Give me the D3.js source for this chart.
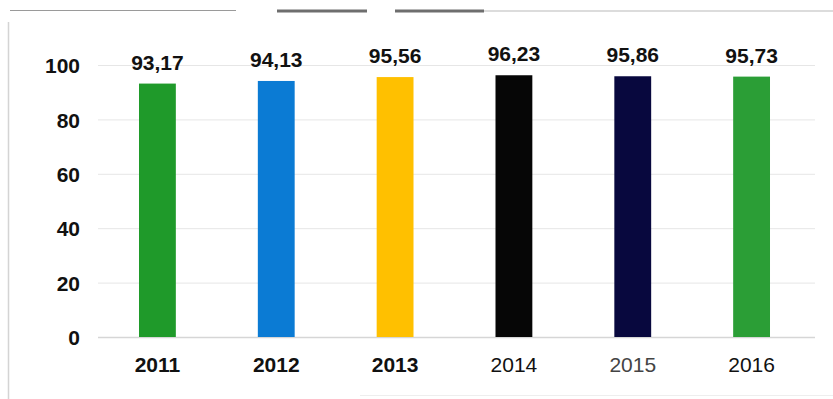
<!DOCTYPE html>
<html>
<head>
<meta charset="utf-8">
<script src="https://cdn.jsdelivr.net/npm/d3@7"></script>
<style>
  html, body { margin: 0; padding: 0; background: #ffffff; }
  svg { display: block; }
  text { font-family: "Liberation Sans", Arial, sans-serif; }
</style>
</head>
<body>
<svg id="chart" width="833" height="399"></svg>
<script>
// Yearly values (percent)
const years = ["2011", "2012", "2013", "2014", "2015", "2016"];
const values = [93.17, 94.13, 95.56, 96.23, 95.86, 95.73];
const barColors = ["#1f9a2a", "#0b7bd4", "#ffc000", "#060606", "#08083e", "#2b9e36"];
const yearBold = [true, true, true, false, false, false];
const yTicks = [0, 20, 40, 60, 80, 100];

const svg = d3.select("#chart");
const W = 833, H = 399;
const margin = { left: 98, right: 22, top: 65, bottom: 62 };
const FS = 21;

const x = d3.scaleBand()
  .domain(years)
  .range([margin.left, W - margin.right])
  .paddingInner(0.69)
  .paddingOuter(0.345);

const y = d3.scaleLinear()
  .domain([0, 100])
  .range([H - margin.bottom, margin.top]);

// Frame remnants: top rule and left edge
svg.append("line").attr("x1", 10).attr("x2", 236).attr("y1", 10.5).attr("y2", 10.5)
  .attr("stroke", "#9a9a9a").attr("stroke-width", 1.2);
svg.append("line").attr("x1", 277).attr("x2", 367).attr("y1", 11).attr("y2", 11)
  .attr("stroke", "#6e6e6e").attr("stroke-width", 3);
svg.append("line").attr("x1", 395).attr("x2", 484).attr("y1", 11).attr("y2", 11)
  .attr("stroke", "#6e6e6e").attr("stroke-width", 3);
svg.append("line").attr("x1", 484).attr("x2", 833).attr("y1", 11).attr("y2", 11)
  .attr("stroke", "#dcdcdc").attr("stroke-width", 2);
svg.append("line").attr("x1", 8.5).attr("x2", 8.5).attr("y1", 22).attr("y2", 399)
  .attr("stroke", "#d4d4d4").attr("stroke-width", 1.5);
svg.append("line").attr("x1", 360).attr("x2", 833).attr("y1", 395.5).attr("y2", 395.5)
  .attr("stroke", "#eeeeee").attr("stroke-width", 1);

// Horizontal gridlines
svg.append("g")
  .selectAll("line")
  .data(yTicks)
  .join("line")
  .attr("x1", margin.left)
  .attr("x2", W - 18)
  .attr("y1", d => y(d) + 0.5)
  .attr("y2", d => y(d) + 0.5)
  .attr("stroke", d => d === 0 ? "#d6d6d6" : "#e6e6e6")
  .attr("stroke-width", d => d === 0 ? 1.5 : 1);

// Y axis tick labels
const yAxis = d3.axisLeft(y).tickValues(yTicks).tickSize(0).tickPadding(0);
const gy = svg.append("g").attr("transform", "translate(80,1)").call(yAxis);
gy.select(".domain").remove();
gy.selectAll("text")
  .attr("font-family", "'Liberation Sans', Arial, sans-serif")
  .attr("font-size", FS)
  .attr("font-weight", "bold")
  .attr("fill", "#111");

// Bars
svg.append("g")
  .selectAll("rect")
  .data(years)
  .join("rect")
  .attr("x", d => x(d))
  .attr("width", x.bandwidth())
  .attr("y", (d, i) => y(values[i]))
  .attr("height", (d, i) => y(0) - y(values[i]))
  .attr("fill", (d, i) => barColors[i]);

// Value labels
svg.append("g")
  .selectAll("text")
  .data(years)
  .join("text")
  .attr("x", d => x(d) + x.bandwidth() / 2)
  .attr("y", (d, i) => y(values[i]) - 14)
  .attr("text-anchor", "middle")
  .attr("font-size", FS)
  .attr("font-weight", "bold")
  .attr("fill", "#111")
  .text((d, i) => values[i].toFixed(2).replace(".", ","));

// X axis labels
const xAxis = d3.axisBottom(x).tickSize(0).tickPadding(0);
const gx = svg.append("g").attr("transform", `translate(0,${y(0) + 20})`).call(xAxis);
gx.select(".domain").remove();
gx.selectAll("text")
  .attr("font-family", "'Liberation Sans', Arial, sans-serif")
  .attr("font-size", FS)
  .attr("font-weight", (d, i) => yearBold[i] ? "bold" : "normal")
  .attr("fill", (d, i) => years[i] === "2015" ? "#444" : "#111");
</script>
</body>
</html>
